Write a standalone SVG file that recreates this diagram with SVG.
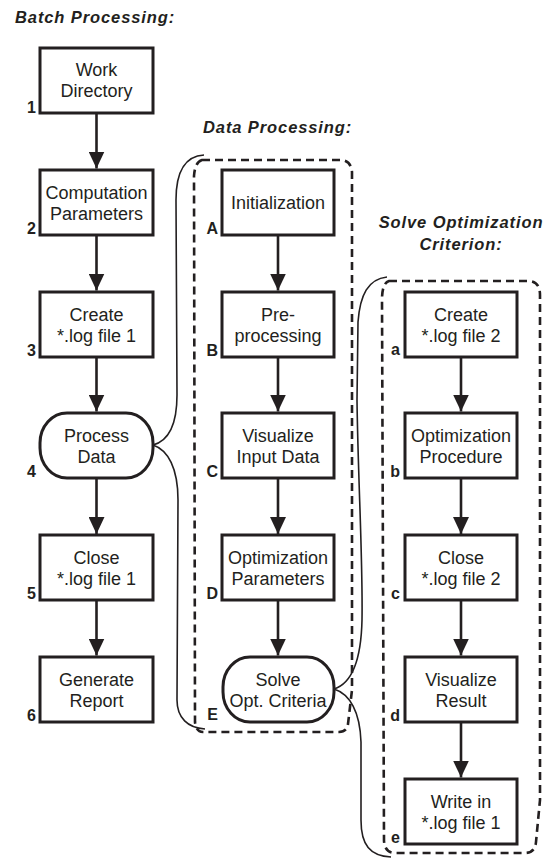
<svg xmlns="http://www.w3.org/2000/svg" width="553" height="859" viewBox="0 0 553 859">
<style>
.bg{fill:#fff}
.box{fill:#fff;stroke:#231f20;stroke-width:3}
.t{font-family:"Liberation Sans",Arial,sans-serif;font-size:18px;fill:#231f20;text-anchor:middle}
.lb{font-family:"Liberation Sans",Arial,sans-serif;font-size:16px;font-weight:bold;fill:#231f20;text-anchor:end}
.ttl{font-family:"Liberation Sans",Arial,sans-serif;font-size:16.5px;font-weight:bold;font-style:italic;fill:#231f20;letter-spacing:0.9px}
.arr{stroke:#231f20;stroke-width:2.6;fill:none;marker-end:url(#ah)}
.brace{stroke:#231f20;stroke-width:1.6;fill:none}
.dash{stroke:#231f20;stroke-width:2.6;fill:none;stroke-dasharray:8 5}
</style>
<defs>
<marker id="ah" viewBox="0 0 17 16" refX="17" refY="8" markerWidth="17" markerHeight="16" markerUnits="userSpaceOnUse" orient="auto">
<path d="M0,0 L17,8 L0,16 Z" fill="#231f20"/>
</marker>
</defs>
<rect class="bg" x="0" y="0" width="553" height="859"/>

<g id="titles">
<text class="ttl" x="15" y="23">Batch Processing:</text>
<text class="ttl" x="203" y="133">Data Processing:</text>
<text class="ttl" x="461" y="228" text-anchor="middle">Solve Optimization</text>
<text class="ttl" x="461" y="250" text-anchor="middle">Criterion:</text>
</g>

<g id="groups">
<path class="dash" d="M202,160 L340,160 Q351,160 352,172 L352,690 L348,724 Q347,732 339,732 L203,732 Q196,732 195,722 L194,176 Q195,162 202,160 Z"/>
<path class="dash" d="M389,281 L528,281 Q540,281 540,295 L540,800 L536,842 Q535,853 525,853 L395,853 Q385,853 384,841 L382,300 Q382,283 389,281 Z"/>
</g>

<g id="connectors">
<line class="arr" x1="96.5" y1="113" x2="96.5" y2="168.5"/>
<line class="arr" x1="96.5" y1="235" x2="96.5" y2="290.5"/>
<line class="arr" x1="96.5" y1="357" x2="96.5" y2="411.5"/>
<line class="arr" x1="96.5" y1="478" x2="96.5" y2="534"/>
<line class="arr" x1="96.5" y1="600" x2="96.5" y2="655.5"/>

<line class="arr" x1="278" y1="235" x2="278" y2="290.5"/>
<line class="arr" x1="278" y1="357" x2="278" y2="411.5"/>
<line class="arr" x1="278" y1="478" x2="278" y2="534"/>
<line class="arr" x1="278" y1="600" x2="278" y2="655.5"/>

<line class="arr" x1="461" y1="357" x2="461" y2="411.5"/>
<line class="arr" x1="461" y1="478" x2="461" y2="534"/>
<line class="arr" x1="461" y1="600" x2="461" y2="655.5"/>
<line class="arr" x1="461" y1="722" x2="461" y2="777.5"/>

<path class="brace" d="M204,155 C186,156 176,170 176,200 L177,395 C177,425 168,441 153,445 C168,450 178,468 178,500 L177,700 C177,718 188,728 205,729"/>
<path class="brace" d="M387,277 C368,279 360,295 358,322 L357,400 C358,480 363,560 362,620 C361,665 350,684 334,689 C350,694 360,712 361,742 L361,820 C361,845 370,856 391,857"/>
</g>

<g id="n1"><rect class="box" x="40" y="48" width="113" height="65"/><text class="t" x="96.5" y="76">Work</text><text class="t" x="96.5" y="97">Directory</text><text class="lb" x="36" y="113">1</text></g>
<g id="n2"><rect class="box" x="40" y="170" width="113" height="65"/><text class="t" x="96.5" y="199">Computation</text><text class="t" x="96.5" y="220">Parameters</text><text class="lb" x="36" y="234">2</text></g>
<g id="n3"><rect class="box" x="40" y="292" width="113" height="65"/><text class="t" x="96.5" y="321">Create</text><text class="t" x="96.5" y="342">*.log file 1</text><text class="lb" x="36" y="356">3</text></g>
<g id="n4"><rect class="box" x="40" y="413" width="113" height="65" rx="27" ry="30"/><text class="t" x="96.5" y="442">Process</text><text class="t" x="96.5" y="463">Data</text><text class="lb" x="36" y="477">4</text></g>
<g id="n5"><rect class="box" x="40" y="535" width="113" height="65"/><text class="t" x="96.5" y="564">Close</text><text class="t" x="96.5" y="585">*.log file 1</text><text class="lb" x="36" y="599">5</text></g>
<g id="n6"><rect class="box" x="40" y="657" width="113" height="65"/><text class="t" x="96.5" y="686">Generate</text><text class="t" x="96.5" y="707">Report</text><text class="lb" x="36" y="721">6</text></g>

<g id="nA"><rect class="box" x="222" y="170" width="112" height="65"/><text class="t" x="278" y="209">Initialization</text><text class="lb" x="218" y="234">A</text></g>
<g id="nB"><rect class="box" x="222" y="292" width="112" height="65"/><text class="t" x="278" y="321">Pre-</text><text class="t" x="278" y="342">processing</text><text class="lb" x="218" y="356">B</text></g>
<g id="nC"><rect class="box" x="222" y="413" width="112" height="65"/><text class="t" x="278" y="442">Visualize</text><text class="t" x="278" y="463">Input Data</text><text class="lb" x="218" y="477">C</text></g>
<g id="nD"><rect class="box" x="222" y="535" width="112" height="65"/><text class="t" x="278" y="564">Optimization</text><text class="t" x="278" y="585">Parameters</text><text class="lb" x="218" y="599">D</text></g>
<g id="nE"><rect class="box" x="223" y="657" width="111" height="65" rx="27" ry="30"/><text class="t" x="278" y="686">Solve</text><text class="t" x="278" y="707">Opt. Criteria</text><text class="lb" x="218" y="720">E</text></g>

<g id="na"><rect class="box" x="405" y="292" width="112" height="65"/><text class="t" x="461" y="321">Create</text><text class="t" x="461" y="342">*.log file 2</text><text class="lb" x="400" y="355">a</text></g>
<g id="nb"><rect class="box" x="405" y="413" width="112" height="65"/><text class="t" x="461" y="442">Optimization</text><text class="t" x="461" y="463">Procedure</text><text class="lb" x="400" y="477">b</text></g>
<g id="nc"><rect class="box" x="405" y="535" width="112" height="65"/><text class="t" x="461" y="564">Close</text><text class="t" x="461" y="585">*.log file 2</text><text class="lb" x="400" y="599">c</text></g>
<g id="nd"><rect class="box" x="405" y="657" width="112" height="65"/><text class="t" x="461" y="686">Visualize</text><text class="t" x="461" y="707">Result</text><text class="lb" x="400" y="721">d</text></g>
<g id="ne"><rect class="box" x="405" y="779" width="112" height="65"/><text class="t" x="461" y="808">Write in</text><text class="t" x="461" y="829">*.log file 1</text><text class="lb" x="400" y="843">e</text></g>
</svg>
